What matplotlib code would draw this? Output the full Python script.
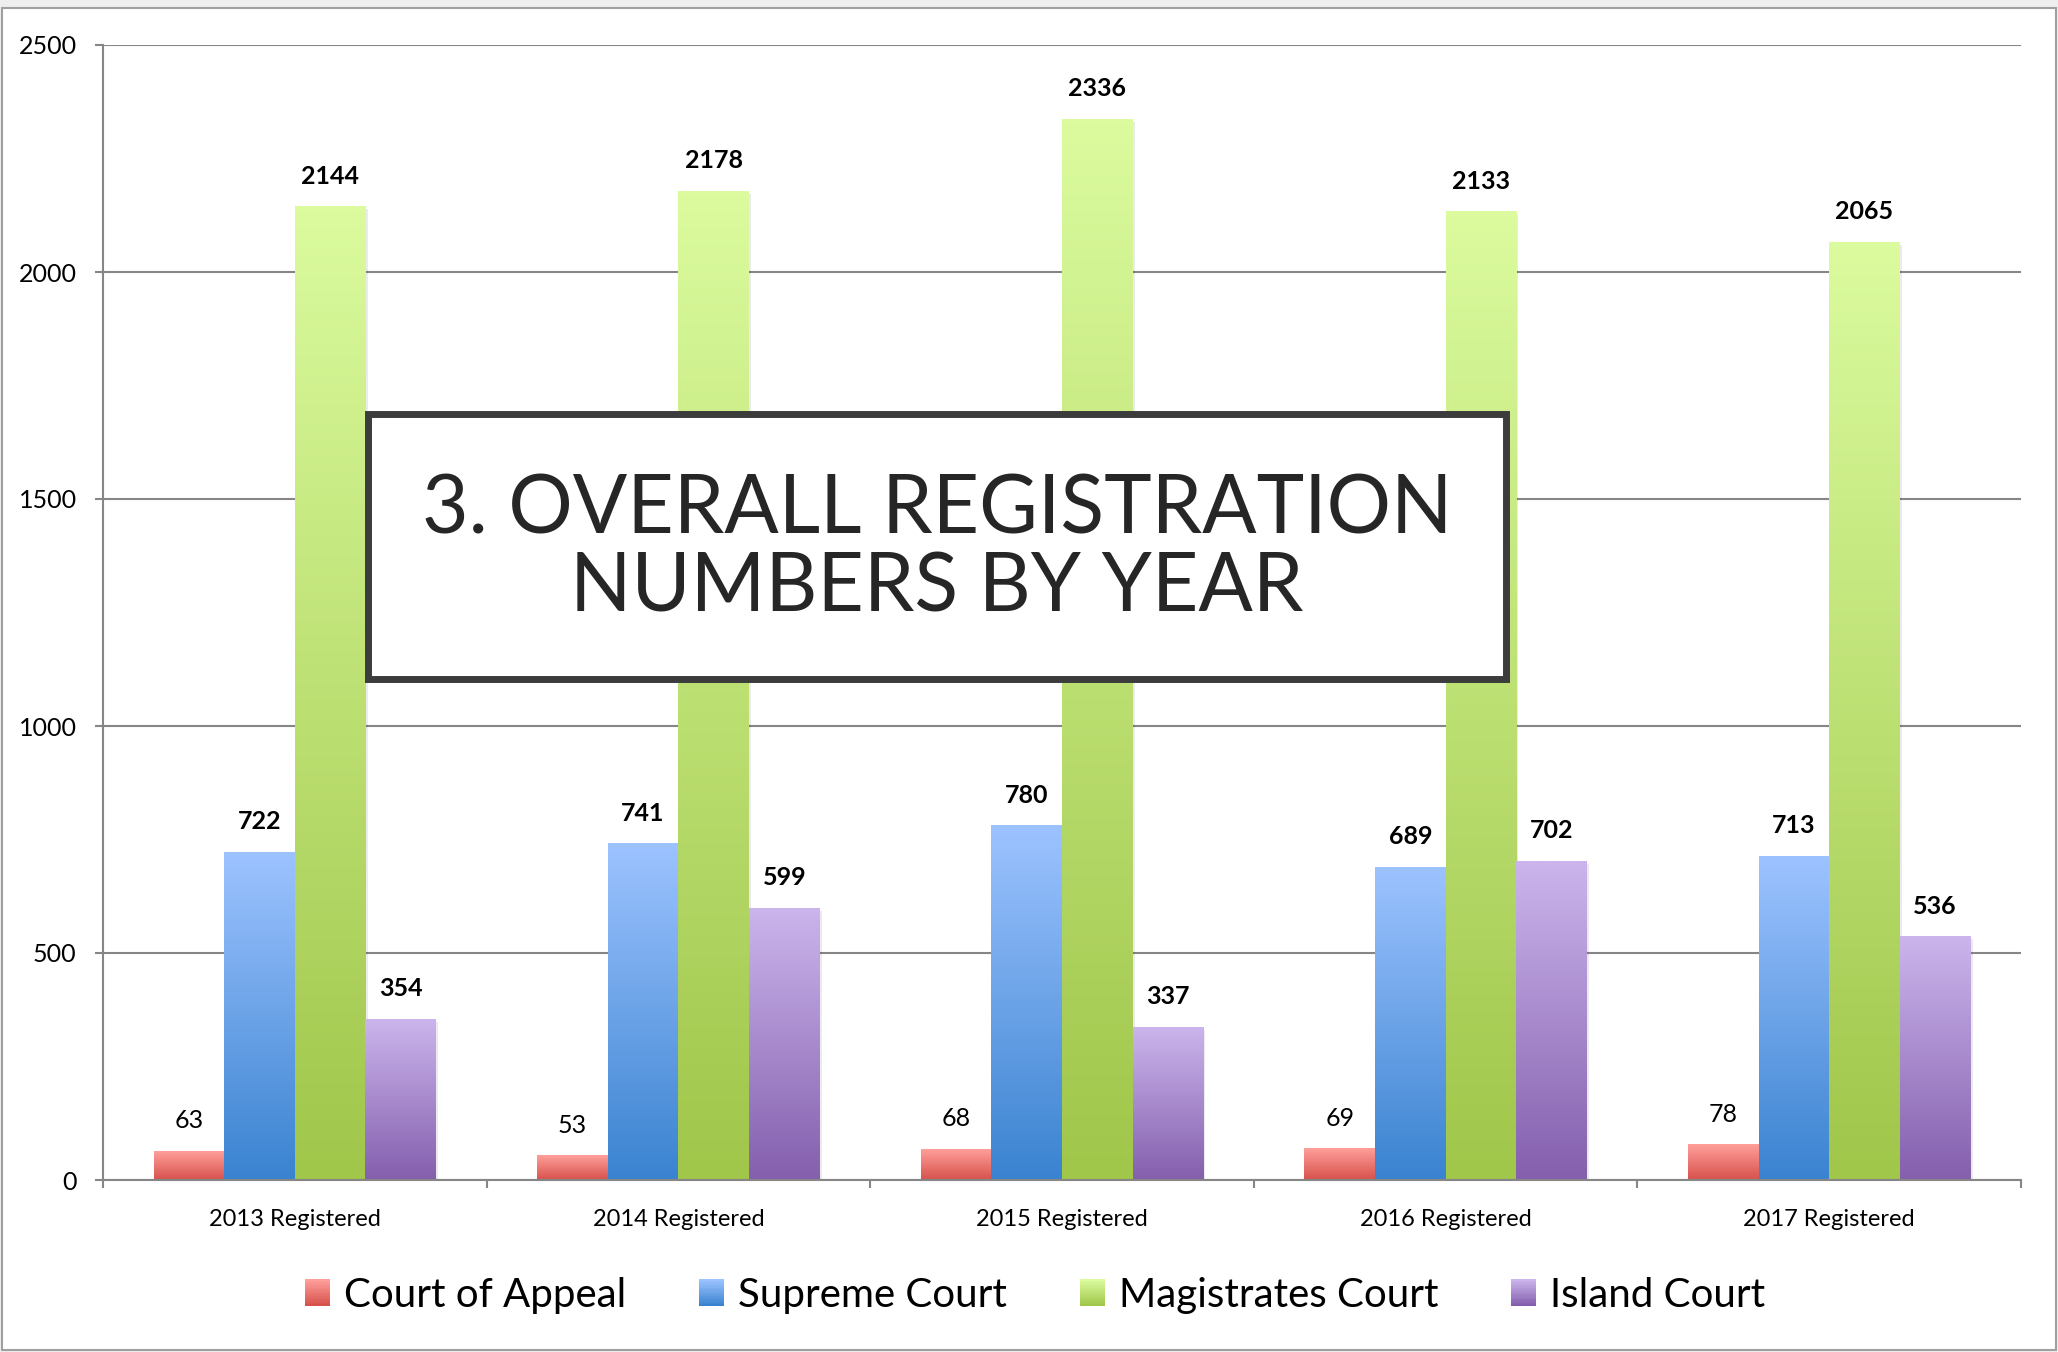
import numpy as np
import matplotlib
matplotlib.use('Agg')
import matplotlib.pyplot as plt
from matplotlib.patches import Rectangle
from matplotlib.colors import LinearSegmentedColormap
from matplotlib.legend_handler import HandlerBase

plt.rcParams['font.family'] = ['Lato', 'DejaVu Sans']

categories = ['2013 Registered', '2014 Registered', '2015 Registered',
              '2016 Registered', '2017 Registered']
series = ['Court of Appeal', 'Supreme Court', 'Magistrates Court', 'Island Court']
court_of_appeal = [63, 53, 68, 69, 78]
supreme_court = [722, 741, 780, 689, 713]
magistrates_court = [2144, 2178, 2336, 2133, 2065]
island_court = [354, 599, 337, 702, 536]
values = [court_of_appeal, supreme_court, magistrates_court, island_court]

# (top colour, bottom colour) of each gradient
grads = [('#ff9f9a', '#d7514c'),
         ('#9dc3ff', '#3a83d0'),
         ('#dbfb9e', '#a0c64a'),
         ('#cbb5ec', '#845fad')]
bold_labels = [False, True, True, True]

W, H, DPI = 2058, 1352, 100
fig = plt.figure(figsize=(W / DPI, H / DPI), dpi=DPI, facecolor='#efefef')

# white slide frame
fig.patches.append(Rectangle((2 / W, 2 / H), 2054 / W, 1342 / H, transform=fig.transFigure,
                             facecolor='white', edgecolor='#a0a0a0', lw=1.5, zorder=-10))

ax = fig.add_axes([103 / W, (H - 1180) / H, (2021 - 103) / W, (1180 - 45) / H])
ax.set_facecolor('none')

grid_c = '#868686'
bw = 0.184
x = np.arange(len(categories))
for i, (vals, (top, bot)) in enumerate(zip(values, grads)):
    cmap = LinearSegmentedColormap.from_list(series[i], [bot, top])
    xs = x + (i - 1.5) * bw
    for xc, v in zip(xs, vals):
        # soft shadow
        ax.add_patch(Rectangle((xc - bw / 2 + 0.006, 0), bw, v - 6, facecolor='black',
                               alpha=0.08, lw=0, zorder=1.5))
        grad = np.linspace(1, 0, 256).reshape(-1, 1)
        ax.imshow(grad, extent=[xc - bw / 2, xc + bw / 2, 0, v], aspect='auto',
                  cmap=cmap, vmin=0, vmax=1, zorder=2, interpolation='bilinear')
        ax.annotate(str(v), (xc, v), xytext=(0, 22), textcoords='offset points',
                    ha='center', va='center', fontsize=18,
                    fontweight='bold' if bold_labels[i] else 'normal')

ax.set_xlim(-0.5, len(categories) - 0.5)
ax.set_ylim(0, 2500)
ax.set_yticks(np.arange(0, 2501, 500))
ax.yaxis.grid(True, color=grid_c, lw=1.5)
ax.set_axisbelow(True)
ax.set_xticks(np.arange(-0.5, len(categories)), labels=[''] * (len(categories) + 1))
ax.set_xticks(x, labels=categories, minor=True)
ax.tick_params(axis='x', which='major', direction='out', length=6, width=1.5, color=grid_c)
ax.tick_params(axis='x', which='minor', length=0, pad=21, labelsize=17)
ax.tick_params(axis='y', direction='out', length=6, width=1.5, color=grid_c,
               pad=13, labelsize=18)
for s in ['top', 'right']:
    ax.spines[s].set_visible(False)
for s in ['left', 'bottom']:
    ax.spines[s].set_color(grid_c)
    ax.spines[s].set_linewidth(1.5)


class GradHandler(HandlerBase):
    def create_artists(self, legend, orig_handle, xdescent, ydescent, width, height,
                       fontsize, trans):
        top, bot = orig_handle.grad
        cmap = LinearSegmentedColormap.from_list('h', [bot, top])
        n = 16
        arts = []
        for k in range(n):
            r = Rectangle((-xdescent, -ydescent + height * k / n), width, height / n + 0.3,
                          facecolor=cmap(k / (n - 1)), lw=0, transform=trans)
            arts.append(r)
        return arts


handles = []
for g in grads:
    h = Rectangle((0, 0), 1, 1)
    h.grad = g
    handles.append(h)
fig.legend(handles, series, loc='center', bbox_to_anchor=(0.503, 0.042), ncol=4,
           frameon=False, fontsize=29, handlelength=0.62, handleheight=0.65,
           handletextpad=0.35, columnspacing=1.8,
           handler_map={Rectangle: GradHandler()})

# title box over the chart
fig.patches.append(Rectangle((368 / W, (H - 679) / H), 1138 / W, 265 / H,
                             transform=fig.transFigure, facecolor='white',
                             edgecolor='#3c3c3c', lw=5, zorder=5))
fig.text(937 / W, (H - 533) / H, '3. OVERALL REGISTRATION', ha='center', va='baseline',
         fontsize=58, color='#262626', zorder=6)
fig.text(937 / W, (H - 612) / H, 'NUMBERS BY YEAR', ha='center', va='baseline',
         fontsize=58, color='#262626', zorder=6)

fig.savefig('out.png', dpi=DPI, facecolor=fig.get_facecolor())
